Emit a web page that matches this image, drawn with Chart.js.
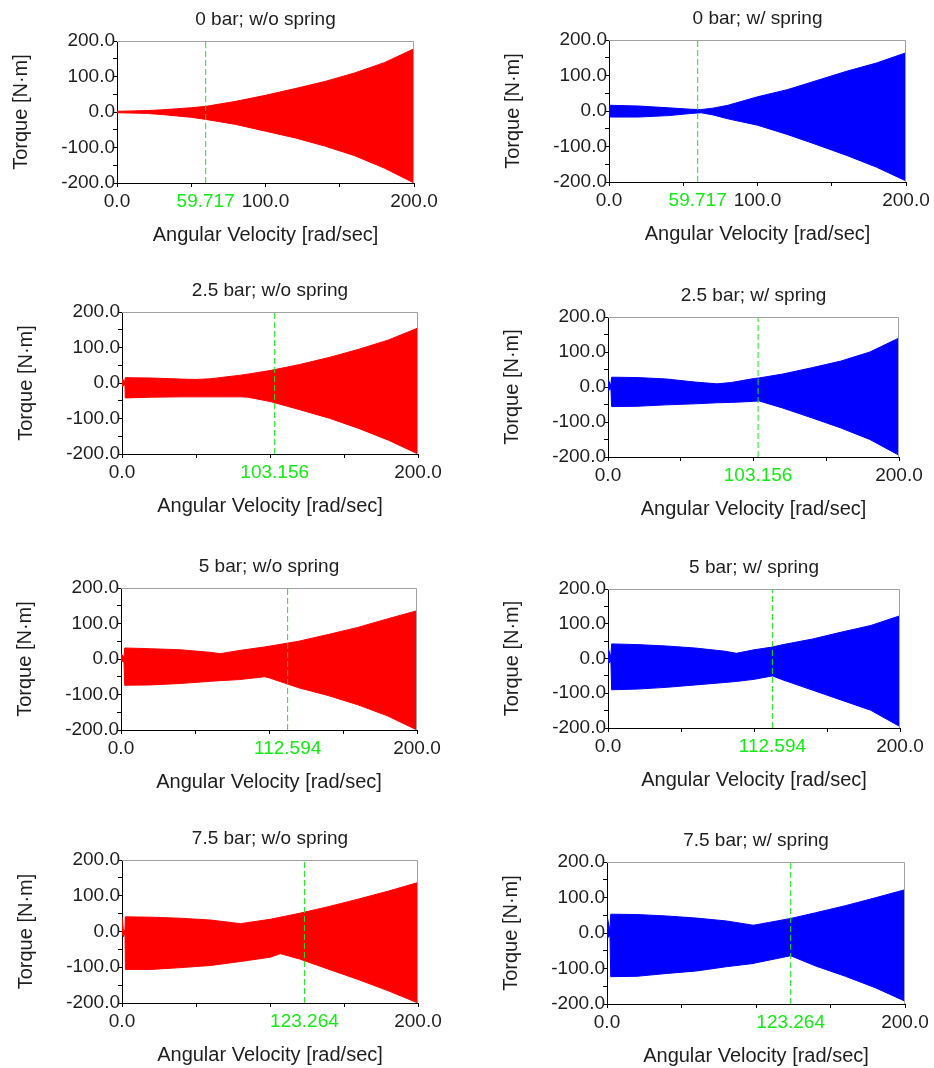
<!DOCTYPE html>
<html lang="en">
<head>
    <meta charset="utf-8">
    <title>Torque vs Angular Velocity</title>
    <script src="https://cdn.jsdelivr.net/npm/chart.js"></script>
    <style>
        body {
            margin: 0;
            background: #fff;
        }

        #page {
            position: relative;
            width: 934px;
            height: 1068px;
            overflow: hidden;
        }

        #page canvas {
            position: absolute;
        }
    </style>
</head>

<body>
    <div id="page"></div>

    <script>
        // panel titles and resonance markers
        const titles = ['0 bar; w/o spring', '0 bar; w/ spring',
            '2.5 bar; w/o spring', '2.5 bar; w/ spring',
            '5 bar; w/o spring', '5 bar; w/ spring',
            '7.5 bar; w/o spring', '7.5 bar; w/ spring'];
        const markers = [59.717, 59.717, 103.156, 103.156, 112.594, 112.594, 123.264, 123.264];
        const yTicks = [-200, -100, 0, 100, 200];
        const xTicks = [0, 100, 200];

        // envelope of the torque signal (upper / lower)
        const speed1 = [0, 10, 20, 30, 40, 50, 60, 80, 100, 120, 140, 160, 180, 200];
        const upper1 = [2, 3, 4, 6, 9, 12, 16, 30, 47, 66, 86, 110, 139, 178];
        const lower1 = [-2, -3, -4, -7, -11, -15, -21, -35, -54, -73, -96, -123, -158, -200];

        const speed2 = [0, 1, 20, 40, 55, 62, 70, 80, 100, 120, 140, 160, 180, 200];
        const upper2 = [15, 16, 14, 9, 5, 4, 8, 16, 40, 60, 86, 112, 135, 164];
        const lower2 = [-15, -17, -17, -13, -7, -5, -11, -22, -40, -66, -95, -125, -158, -197];

        const speed3 = [0, 2, 2.2, 20, 40, 50, 60, 80, 85, 100, 120, 140, 160, 180, 200];
        const upper3 = [12, 4, 15, 14, 11, 10, 12, 22, 25, 35, 52, 72, 95, 121, 155];
        const lower3 = [-10, -4, -42, -40, -39, -39, -39, -39, -40, -52, -75, -99, -128, -161, -200];

        const speed4 = [0, 2, 2.5, 20, 40, 60, 75, 85, 100, 104, 120, 140, 160, 180, 200];
        const upper4 = [22, 4, 28, 27, 23, 14, 9, 13, 24, 26, 37, 55, 74, 100, 140];
        const lower4 = [-12, -4, -56, -55, -51, -48, -45, -44, -41, -40, -60, -88, -117, -150, -195];

        const speed5 = [0, 2, 2.5, 20, 40, 60, 67, 80, 97, 100, 120, 140, 160, 180, 200];
        const upper5 = [15, 5, 31, 29, 26, 19, 15, 24, 34, 36, 50, 69, 89, 113, 136];
        const lower5 = [-5, -8, -74, -73, -69, -63, -61, -58, -50, -53, -81, -103, -129, -160, -200];

        const speed6 = [0, 2, 2.5, 20, 40, 60, 80, 88, 100, 112.6, 120, 140, 160, 180, 200];
        const upper6 = [30, 5, 42, 40, 36, 30, 21, 15, 25, 33, 40, 56, 76, 95, 123];
        const lower6 = [-15, -8, -90, -88, -83, -76, -69, -66, -60, -50, -62, -91, -120, -149, -196];

        const speed7 = [0, 1, 2, 2.3, 20, 40, 60, 80, 100, 107, 120, 140, 160, 180, 200];
        const upper7 = [40, 3, 3, 41, 40, 37, 32, 22, 34, 40, 51, 70, 91, 113, 137];
        const lower7 = [-3, -15, -3, -106, -106, -101, -95, -84, -72, -62, -77, -106, -135, -166, -200];

        const speed8 = [0, 2, 2.5, 20, 40, 60, 80, 98, 100, 123.3, 140, 160, 180, 200];
        const upper8 = [50, 5, 53, 52, 48, 42, 34, 22, 23, 41, 57, 77, 99, 122];
        const lower8 = [-15, -8, -123, -122, -114, -107, -95, -86, -84, -64, -93, -122, -154, -192];

        const speeds = [speed1, speed2, speed3, speed4, speed5, speed6, speed7, speed8];
        const uppers = [upper1, upper2, upper3, upper4, upper5, upper6, upper7, upper8];
        const lowers = [lower1, lower2, lower3, lower4, lower5, lower6, lower7, lower8];

        // plot areas on the page: left, top, right, bottom
        const boxes = [
            [117, 41, 414, 183], [609, 40, 906, 182],
            [122, 312, 418, 454], [608, 317, 899, 457],
            [121, 588, 417, 730], [608, 589, 900, 728],
            [122, 860, 418, 1003], [607, 862, 905, 1004]
        ];
        const PAD_L = 110, PAD_T = 45, PAD_R = 32, PAD_B = 64;
        const GREEN = 'rgb(20,235,20)';
        const TEXT = '#1e1e1e';
        const FONT = '"Liberation Sans", Arial, sans-serif';

        Chart.defaults.font.family = FONT;
        Chart.defaults.font.size = 19;
        Chart.defaults.color = TEXT;

        // title above the plot and grey top/right frame
        const panelDecor = {
            id: 'panelDecor',
            afterDraw(chart, args, opts) {
                const { ctx, chartArea: a } = chart;
                ctx.save();
                ctx.strokeStyle = '#a0a0a0';
                ctx.lineWidth = 1;
                ctx.beginPath();
                ctx.moveTo(a.left, a.top + 0.5);
                ctx.lineTo(a.right - 0.5, a.top + 0.5);
                ctx.lineTo(a.right - 0.5, a.bottom);
                ctx.stroke();
                ctx.fillStyle = TEXT;
                ctx.font = '19px ' + FONT;
                ctx.textAlign = 'center';
                ctx.textBaseline = 'middle';
                ctx.fillText(opts.text, (a.left + a.right) / 2, a.top - 21);
                ctx.restore();
            }
        };

        const page = document.getElementById('page');

        titles.forEach((title, i) => {
            const [L, T, R, B] = boxes[i];
            const m = markers[i];
            const color = i % 2 === 0 ? '#ff0000' : '#0000ff';

            const canvas = document.createElement('canvas');
            canvas.width = PAD_L + (R - L) + PAD_R;
            canvas.height = PAD_T + (B - T) + PAD_B;
            canvas.style.left = (L - PAD_L) + 'px';
            canvas.style.top = (T - PAD_T) + 'px';
            page.appendChild(canvas);

            const upperPts = speeds[i].map((s, k) => ({ x: s, y: uppers[i][k] }));
            const lowerPts = speeds[i].map((s, k) => ({ x: s, y: lowers[i][k] }));

            new Chart(canvas.getContext('2d'), {
                type: 'line',
                data: {
                    datasets: [{
                        // resonance marker
                        data: [{ x: m, y: -200 }, { x: m, y: 200 }],
                        borderColor: GREEN,
                        borderWidth: 1,
                        borderDash: [6, 3],
                        pointRadius: 0,
                        fill: false
                    }, {
                        data: upperPts,
                        borderColor: color,
                        backgroundColor: color,
                        borderWidth: 1,
                        pointRadius: 0,
                        tension: 0,
                        fill: '+1'
                    }, {
                        data: lowerPts,
                        borderColor: color,
                        borderWidth: 1,
                        pointRadius: 0,
                        tension: 0,
                        fill: false
                    }]
                },
                options: {
                    responsive: false,
                    animation: false,
                    events: [],
                    layout: { padding: { left: 0, top: PAD_T, right: PAD_R, bottom: 0 } },
                    plugins: {
                        legend: { display: false },
                        tooltip: { enabled: false },
                        panelDecor: { text: title }
                    },
                    scales: {
                        x: {
                            type: 'linear',
                            min: 0,
                            max: 200,
                            border: { color: '#000' },
                            grid: {
                                drawOnChartArea: false,
                                tickLength: 4,
                                tickColor: c => (c.tick && c.tick.value === m) ? 'rgba(0,0,0,0)' : '#000'
                            },
                            afterBuildTicks: s => {
                                s.ticks = [0, 50, 100, 150, 200, m].sort((a, b) => a - b).map(v => ({ value: v }));
                            },
                            afterFit: s => { s.height = PAD_B; },
                            ticks: {
                                autoSkip: false,
                                maxRotation: 0,
                                padding: 3,
                                color: c => (c.tick && c.tick.value === m) ? GREEN : TEXT,
                                callback: v => {
                                    if (v === m) return m.toFixed(3);
                                    if (xTicks.includes(v) && Math.abs(v - m) > 30) return v.toFixed(1);
                                    return '';
                                }
                            },
                            title: {
                                display: true,
                                text: 'Angular Velocity [rad/sec]',
                                font: { size: 20 },
                                padding: { top: 0, bottom: 0 }
                            }
                        },
                        y: {
                            min: -200,
                            max: 200,
                            border: { color: '#000' },
                            grid: { drawOnChartArea: false, tickLength: 4, color: '#000' },
                            afterFit: s => { s.width = PAD_L; },
                            ticks: {
                                stepSize: 50,
                                autoSkip: false,
                                padding: -2,
                                callback: v => yTicks.includes(v) ? v.toFixed(1) : ''
                            },
                            title: {
                                display: true,
                                text: 'Torque [N·m]',
                                font: { size: 20 },
                                padding: { top: 2, bottom: 0 }
                            }
                        }
                    }
                },
                plugins: [panelDecor]
            });
        });
    </script>
</body>

</html>
